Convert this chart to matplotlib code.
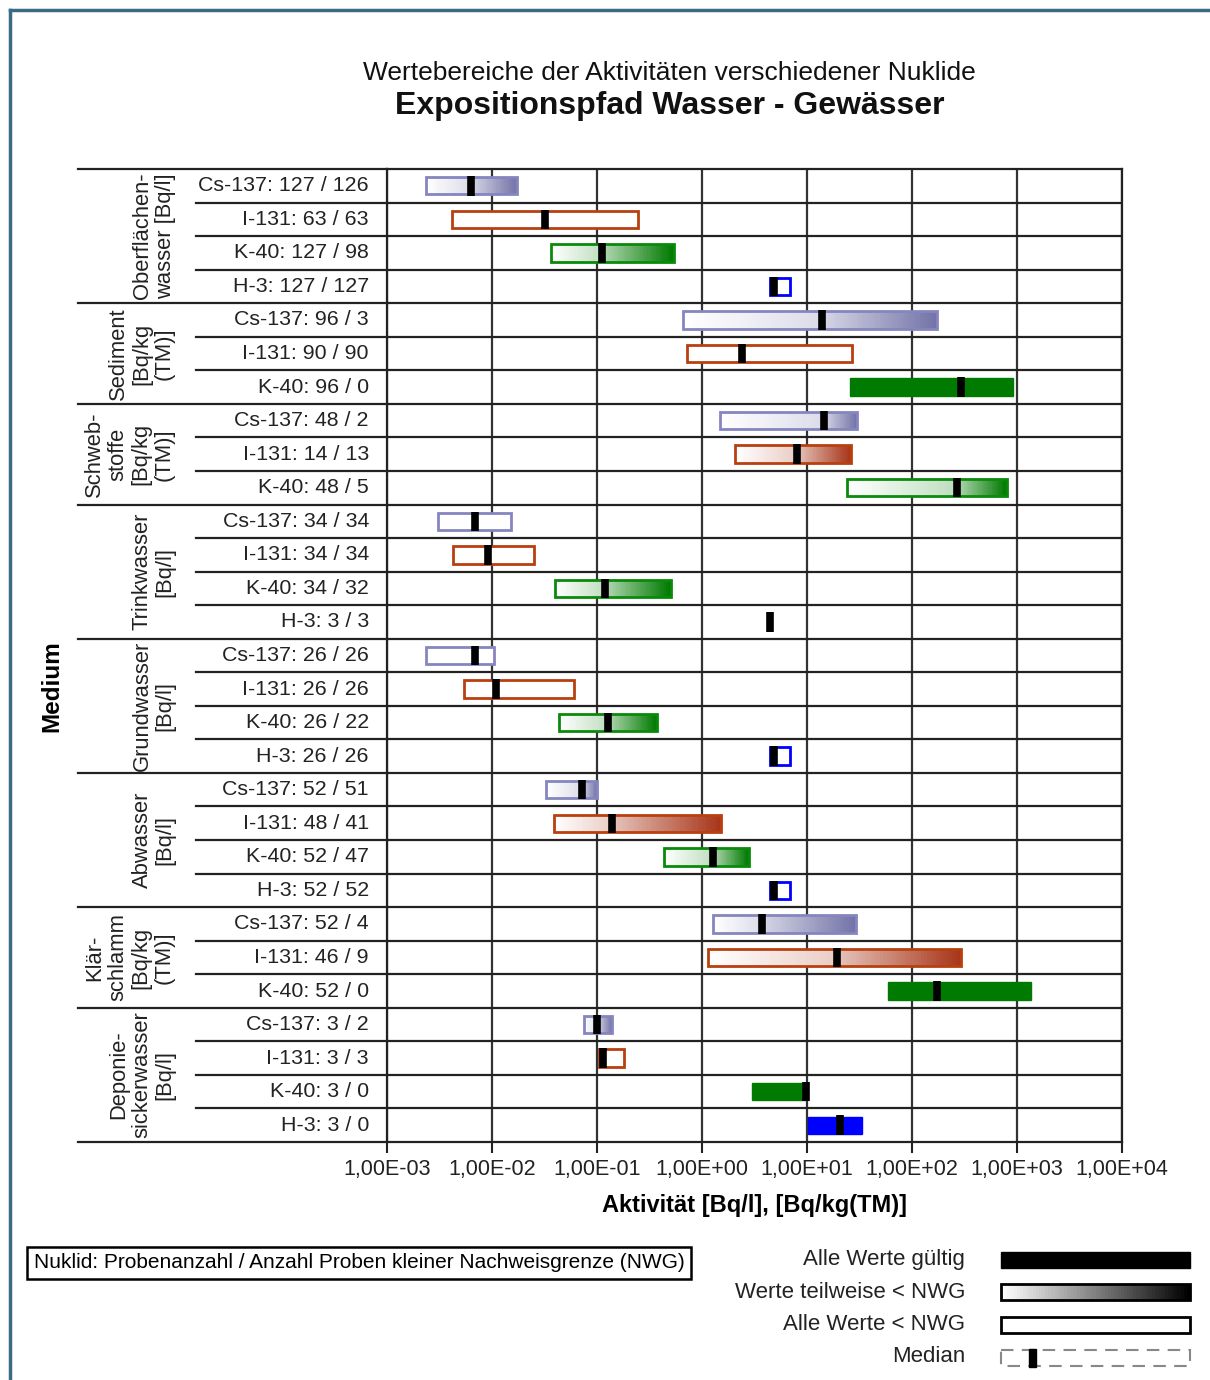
import numpy as np
import matplotlib.pyplot as plt
from matplotlib.patches import Rectangle
from matplotlib.lines import Line2D

plt.rcParams['font.family'] = ['Liberation Sans', 'DejaVu Sans']

# groups (medium) and how many nuclide rows each has
groups = ["Oberflächen-\nwasser [Bq/l]", "Sediment\n[Bq/kg\n(TM)]", "Schweb-\nstoffe\n[Bq/kg\n(TM)]",
          "Trinkwasser\n[Bq/l]", "Grundwasser\n[Bq/l]", "Abwasser\n[Bq/l]",
          "Klär-\nschlamm\n[Bq/kg\n(TM)]", "Deponie-\nsickerwasser\n[Bq/l]"]
group_sizes = [4, 3, 3, 4, 4, 4, 3, 4]

nuclides = ["Cs-137", "I-131", "K-40", "H-3",
            "Cs-137", "I-131", "K-40",
            "Cs-137", "I-131", "K-40",
            "Cs-137", "I-131", "K-40", "H-3",
            "Cs-137", "I-131", "K-40", "H-3",
            "Cs-137", "I-131", "K-40", "H-3",
            "Cs-137", "I-131", "K-40",
            "Cs-137", "I-131", "K-40", "H-3"]
n_samples = [127, 63, 127, 127, 96, 90, 96, 48, 14, 48, 34, 34, 34, 3,
             26, 26, 26, 26, 52, 48, 52, 52, 52, 46, 52, 3, 3, 3, 3]
n_below = [126, 63, 98, 127, 3, 90, 0, 2, 13, 5, 34, 34, 32, 3,
           26, 26, 22, 26, 51, 41, 47, 52, 4, 9, 0, 2, 3, 0, 0]

# value ranges (Bq/l or Bq/kg TM)
v_min = [2.35e-3, 4.2e-3, 3.65e-2, 4.45, 0.66, 0.72, 25.7, 1.48, 2.06, 24.0,
         3.06e-3, 4.26e-3, 3.98e-2, 4.45,
         2.35e-3, 5.4e-3, 4.35e-2, 4.45,
         3.27e-2, 3.9e-2, 0.435, 4.45,
         1.27, 1.14, 59.0,
         7.5e-2, 1.05e-1, 2.99, 10.2]
v_max = [1.73e-2, 0.245, 0.54, 6.9, 173.0, 26.8, 917.0, 29.9, 26.2, 803.0,
         1.52e-2, 2.51e-2, 0.507, 4.45,
         1.05e-2, 6.0e-2, 0.372, 6.9,
         0.1, 1.52, 2.8, 6.9,
         29.3, 293.0, 1360.0,
         0.139, 0.181, 10.0, 33.4]
v_median = [6.3e-3, 3.2e-2, 0.112, 4.8, 13.9, 2.4, 293.0, 14.5, 8.0, 268.0,
            6.9e-3, 9.2e-3, 0.119, 4.45,
            6.9e-3, 1.09e-2, 0.127, 4.8,
            7.2e-2, 0.139, 1.27, 4.8,
            3.72, 19.3, 173.0,
            0.1, 0.114, 9.8, 20.6]

colors = {"Cs-137": "#7474a8", "I-131": "#a8361a", "K-40": "#007a00", "H-3": "#0000ff"}
edge_colors = {"Cs-137": "#8585c0", "I-131": "#b8400f", "K-40": "#0a8a0a", "H-3": "#0000ff"}

xticks = [1e-3, 1e-2, 1e-1, 1e0, 1e1, 1e2, 1e3, 1e4]
xtick_labels = ["1,00E-03", "1,00E-02", "1,00E-01", "1,00E+00", "1,00E+01", "1,00E+02", "1,00E+03", "1,00E+04"]

legend_labels = ["Alle Werte gültig", "Werte teilweise < NWG", "Alle Werte < NWG", "Median"]

W, H = 1210, 1380
fig = plt.figure(figsize=(W / 100, H / 100), dpi=100)


def fx(px):
    return px / W


def fy(py):
    return 1 - py / H


n_rows = len(nuclides)
ax = fig.add_axes([fx(387), fy(1142), fx(1122) - fx(387), fy(169) - fy(1142)])
axl = fig.add_axes([fx(78), fy(1142), fx(387) - fx(78), fy(169) - fy(1142)])
for a in (ax, axl):
    a.set_ylim(n_rows, 0)
ax.set_xscale('log')
ax.set_xlim(1e-3, 1e4)
axl.set_xlim(0, 309)
axl.axis('off')

# grid
for xt in xticks:
    ax.axvline(xt, color='#333333', lw=1.6, zorder=1)
for i in range(1, n_rows):
    ax.axhline(i, color='#222222', lw=1.6, zorder=1)
for s in ax.spines.values():
    s.set_linewidth(1.6)
    s.set_color('#222222')
ax.set_xticks(xticks)
ax.set_xticklabels(xtick_labels, fontsize=15.5)
ax.xaxis.set_minor_locator(plt.NullLocator())
ax.tick_params(axis='x', length=8, width=1.5, direction='out', pad=4, colors='#222222', labelcolor='#222222')
ax.set_yticks([])
ax.set_xlabel("Aktivität [Bq/l], [Bq/kg(TM)]", fontsize=17, fontweight='bold', labelpad=10)

bar_h = 0.52
med_h = 0.58
white = np.array([1.0, 1.0, 1.0])


def rgb(c):
    return np.array(plt.matplotlib.colors.to_rgb(c))


def gradient(lo, hi, y, c, f0, f1, n=40):
    edges = np.logspace(np.log10(lo), np.log10(hi), n + 1)
    fr = np.linspace(f0, f1, n)
    cols = [white + (c - white) * f for f in fr]
    ax.barh([y] * n, edges[1:] - edges[:-1], left=edges[:-1], height=bar_h,
            color=cols, edgecolor='none', linewidth=0, zorder=2)


for i in range(n_rows):
    y = i + 0.5
    nuc = nuclides[i]
    c = rgb(colors[nuc])
    lo, hi, med = v_min[i], v_max[i], v_median[i]
    if n_below[i] == 0:
        ax.barh(y, hi - lo, left=lo, height=bar_h, color=c, edgecolor=c, lw=1.0, zorder=2)
    elif n_below[i] == n_samples[i]:
        ax.barh(y, hi - lo, left=lo, height=bar_h, color='white', edgecolor=edge_colors[nuc], lw=2.0, zorder=2)
    else:
        gradient(lo, med, y, c, 0.0, 0.25)
        gradient(med, hi, y, c, 0.3, 1.0)
        ax.barh(y, hi - lo, left=lo, height=bar_h, fill=False, edgecolor=edge_colors[nuc], lw=2.0, zorder=3)
    ax.vlines(med, y - med_h / 2, y + med_h / 2, color='black', lw=5.5, zorder=4)

# left label table
row = 0
line_px = 24.5
for g, size in zip(groups, group_sizes):
    axl.plot([0, 309], [row, row], color='#222222', lw=1.6, clip_on=False)
    n_lines = g.count("\n") + 1
    gx_c = 166 - 78 - (n_lines - 1) * line_px / 2
    axl.text(gx_c, row + size / 2, g, rotation=90, ha='center', va='center', fontsize=15.8,
             linespacing=1.12, color='#222222')
    for k in range(size):
        r = row + k
        if k > 0:
            axl.plot([118, 309], [r, r], color='#222222', lw=1.6)
        axl.text(291, r + 0.5, f"{nuclides[r]}: {n_samples[r]} / {n_below[r]}", ha='right', va='center',
                 fontsize=15.4, color='#222222')
    row += size
axl.plot([0, 309], [n_rows, n_rows], color='#222222', lw=1.6, clip_on=False)

fig.text(fx(52), fy(686), "Medium", rotation=90, ha='center', va='center', fontsize=17.5, fontweight='bold')

# titles
fig.text(fx(669), fy(73), "Wertebereiche der Aktivitäten verschiedener Nuklide", ha='center', va='center',
         fontsize=19, color='#111111')
fig.text(fx(670), fy(106), "Expositionspfad Wasser - Gewässer", ha='center', va='center',
         fontsize=23, fontweight='bold', color='#111111')

# note box
fig.text(fx(359), fy(1263), "Nuklid: Probenanzahl / Anzahl Proben kleiner Nachweisgrenze (NWG)", ha='center',
         va='center', fontsize=15,
         bbox=dict(boxstyle='square,pad=0.3', fc='white', ec='black', lw=1.8))

# legend
lax = fig.add_axes([fx(990), fy(1372), fx(1200) - fx(990), fy(1244) - fy(1372)])
lax.set_xlim(990, 1200)
lax.set_ylim(1372, 1244)
lax.axis('off')
ys = [1260, 1292, 1325, 1357]
for lab, yy in zip(legend_labels, ys):
    fig.text(fx(965), fy(yy), lab, ha='right', va='center', fontsize=16, color='#222222')
lax.add_patch(Rectangle((1001, 1252), 189, 16, fc='black', ec='black', lw=1))
gx = np.linspace(1001, 1190, 61)
for k in range(60):
    v = 1 - k / 59
    lax.add_patch(Rectangle((gx[k], 1284), gx[k + 1] - gx[k], 16, fc=(v, v, v), ec='none'))
lax.add_patch(Rectangle((1001, 1284), 189, 16, fill=False, ec='black', lw=2))
lax.add_patch(Rectangle((1001, 1317), 189, 16, fc='white', ec='black', lw=2))
lax.add_patch(Rectangle((1001, 1350), 189, 16, fill=False, ec='#888888', lw=1.5, ls=(0, (6, 4))))
lax.add_patch(Rectangle((1029, 1349), 7, 18, fc='black', ec='black'))

# frame lines of the page
fig.add_artist(Line2D([fx(10), fx(10)], [fy(10), 0], color='#3a6a85', lw=2.5))
fig.add_artist(Line2D([fx(10), 1], [fy(10), fy(10)], color='#3a6a85', lw=2.5))

fig.savefig("out.png", dpi=100)
